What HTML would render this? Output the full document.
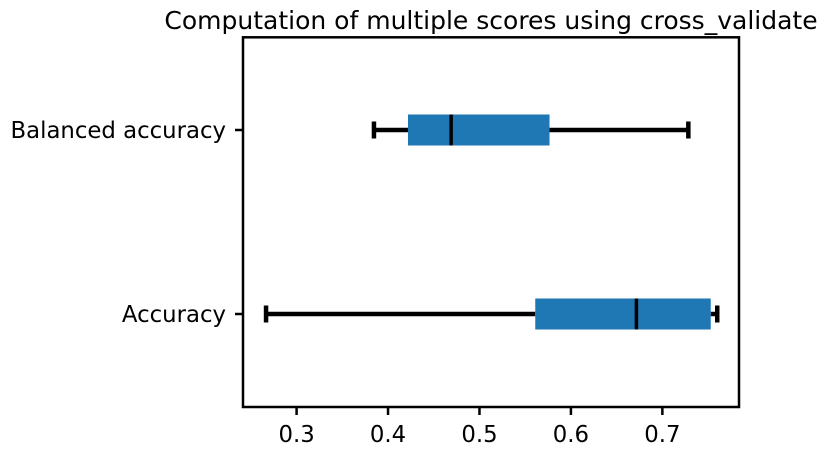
<!DOCTYPE html>
<html><head><meta charset="utf-8"><style>
html,body{margin:0;padding:0;background:#fff;}
svg{display:block;font-family:"DejaVu Sans","Liberation Sans",sans-serif;}
</style></head><body>
<svg id="chart" width="828" height="457" viewBox="0 0 828 457">
<text x="491" y="29" font-size="25" text-anchor="middle" fill="#000">Computation of multiple scores using cross_validate</text>
<g id="plot"></g>
<rect x="243" y="37.3" width="496" height="369.7" fill="none" stroke="#000" stroke-width="2.5"/>
</svg>
<script>
const categories = ["Balanced accuracy", "Accuracy"];
const whiskerLow = [0.3846, 0.2666];
const q1 = [0.4218, 0.561];
const medians = [0.469, 0.6716];
const q3 = [0.5766, 0.7529];
const whiskerHigh = [0.7284, 0.760];
const xTicks = [0.3, 0.4, 0.5, 0.6, 0.7];
const xTickLabels = ["0.3", "0.4", "0.5", "0.6", "0.7"];

const ns = "http://www.w3.org/2000/svg";
const L = 243, R = 739, T = 37.3, B = 407;
const xMin = 0.2414, xMax = 0.7838;
function xs(v){ return L + (v - xMin) / (xMax - xMin) * (R - L); }
const catY = [130, 314];
function ys(i){ return catY[i]; }
const g = document.getElementById('plot');
function mk(tag, attrs){ const e = document.createElementNS(ns, tag); for (const k in attrs) e.setAttribute(k, attrs[k]); g.appendChild(e); return e; }

xTicks.forEach((t, i) => {
  const x = xs(t);
  const tk = mk('line', {x1:x, x2:x, y1:B, y2:B+8, stroke:'#000', 'stroke-width':2.5});
  
  
  const lb = mk('text', {x:x, y:B+35, 'font-size':22.8, 'text-anchor':'middle', fill:'#000'});
  lb.textContent = xTickLabels[i];
  
  
});

categories.forEach((c, i) => {
  const y = ys(i);
  const tk = mk('line', {x1:L-8, x2:L, y1:y, y2:y, stroke:'#000', 'stroke-width':2.5});
  
  
  const lb = mk('text', {x:L-17, y:y+8, 'font-size':22.8, 'text-anchor':'end', fill:'#000'});
  lb.textContent = c;
  
  

  const h = 31;
  const w1 = mk('line', {x1:xs(whiskerLow[i]), x2:xs(q1[i]), y1:y, y2:y, stroke:'#000', 'stroke-width':4.5});
  
  
  const w2 = mk('line', {x1:xs(q3[i]), x2:xs(whiskerHigh[i]), y1:y, y2:y, stroke:'#000', 'stroke-width':4.5});
  
  
  const c1 = mk('line', {x1:xs(whiskerLow[i]), x2:xs(whiskerLow[i]), y1:y-8.5, y2:y+8.5, stroke:'#000', 'stroke-width':4.5});
  
  
  const c2 = mk('line', {x1:xs(whiskerHigh[i]), x2:xs(whiskerHigh[i]), y1:y-8.5, y2:y+8.5, stroke:'#000', 'stroke-width':4.5});
  
  
  const bx = mk('rect', {x:xs(q1[i]), y:y-h/2, width:xs(q3[i])-xs(q1[i]), height:h, fill:'#1f77b4'});
  
  
  const md = mk('line', {x1:xs(medians[i]), x2:xs(medians[i]), y1:y-h/2, y2:y+h/2, stroke:'#000', 'stroke-width':3.5});
  
  
});
</script>
</body></html>
